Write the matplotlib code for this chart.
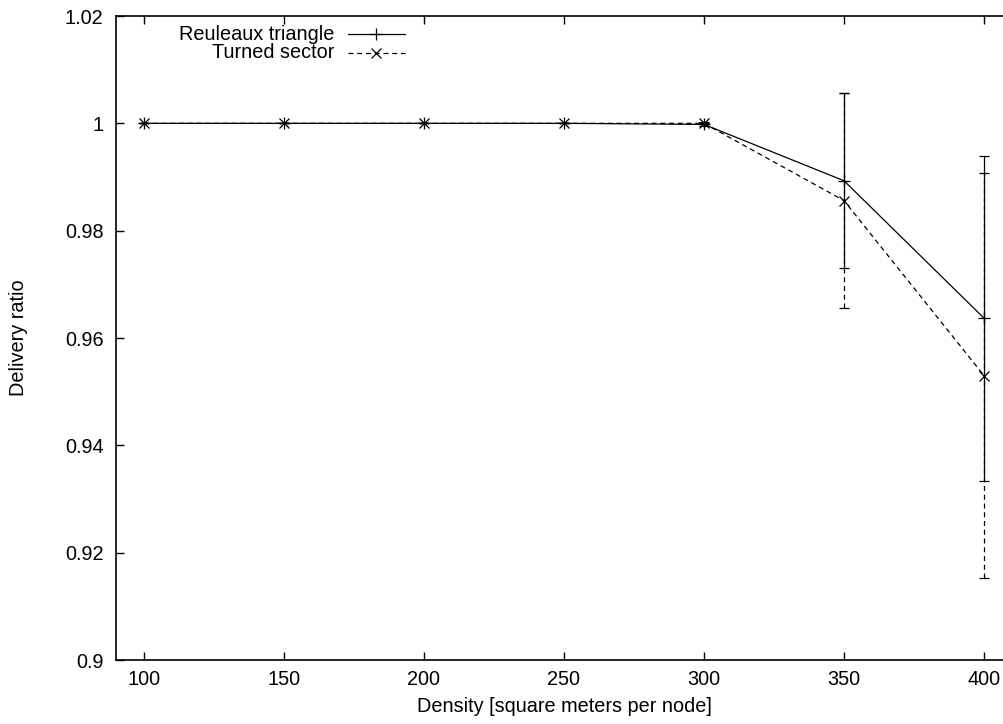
import matplotlib
matplotlib.use("Agg")
import matplotlib.pyplot as plt
from matplotlib.lines import Line2D

density = [100, 150, 200, 250, 300, 350, 400]
reuleaux = [1.0, 1.0, 1.0, 1.0, 0.9998, 0.9893, 0.9637]
reuleaux_err = [0.0, 0.0, 0.0, 0.0, 0.0003, 0.0163, 0.0303]
turned = [1.0, 1.0, 1.0, 1.0, 1.0, 0.9856, 0.9530]
turned_err = [0.0, 0.0, 0.0, 0.0, 0.0002, 0.0200, 0.0378]
xticks = [100, 150, 200, 250, 300, 350, 400]
yticks = [0.9, 0.92, 0.94, 0.96, 0.98, 1.0, 1.02]
ytick_labels = ["0.9", "0.92", "0.94", "0.96", "0.98", "1", "1.02"]

plt.rcParams['font.family'] = ['Liberation Sans', 'DejaVu Sans']
FS = 14.3

fig = plt.figure(figsize=(10.04, 7.24), dpi=100)
ax = fig.add_axes([116/1004, 64/724, (1012-116)/1004, (660-16)/724])

lw = 0.9
dash = (0, (4, 3))

# Reuleaux triangle
l1 = ax.errorbar(density, reuleaux, yerr=reuleaux_err, color='black', lw=lw,
                 marker='+', ms=8, mew=lw, capsize=3.5, capthick=lw, elinewidth=lw,
                 zorder=3)
# Turned sector
l2 = ax.errorbar(density, turned, yerr=turned_err, color='black', lw=lw,
                 marker='x', ms=6.5, mew=lw, capsize=3.5, capthick=lw, elinewidth=lw,
                 zorder=3)
l2.lines[0].set_linestyle(dash)
for bc in l2.lines[2]:
    bc.set_linestyle(dash)

ax.set_xlim(90, 410)
ax.set_ylim(0.9, 1.02)
ax.set_xticks(xticks)
ax.set_xticklabels([str(v) for v in xticks], fontsize=FS)
ax.set_yticks(yticks)
ax.set_yticklabels(ytick_labels, fontsize=FS)
ax.tick_params(axis='both', direction='in', length=6, width=1, top=True, right=True)
ax.tick_params(axis='y', pad=9)
ax.tick_params(axis='x', pad=7)
for s in ax.spines.values():
    s.set_linewidth(1.2)

ax.set_xlabel("Density [square meters per node]", fontsize=FS)
ax.xaxis.set_label_coords(0.5, -0.058)
ax.set_ylabel("Delivery ratio", fontsize=FS)
ax.yaxis.set_label_coords(-0.098, 0.5)

# manual gnuplot-style legend (text right-aligned, sample on the right)
tr = fig.transFigure
W, H = 1004, 724
rows = [("Reuleaux triangle", '-', '+', 8, 34), ("Turned sector", dash, 'x', 6.5, 53)]
for label, ls, mk, ms, ypx in rows:
    yf = 1 - ypx / H
    fig.text(334 / W, yf, label, ha='right', va='center', fontsize=FS)
    fig.add_artist(Line2D([348 / W, 405 / W], [yf, yf], transform=tr, color='black',
                          lw=lw, linestyle=ls))
    fig.add_artist(Line2D([376 / W], [yf], transform=tr, color='black', lw=0,
                          marker=mk, ms=ms, mew=lw))

fig.savefig("out.png", dpi=100)
